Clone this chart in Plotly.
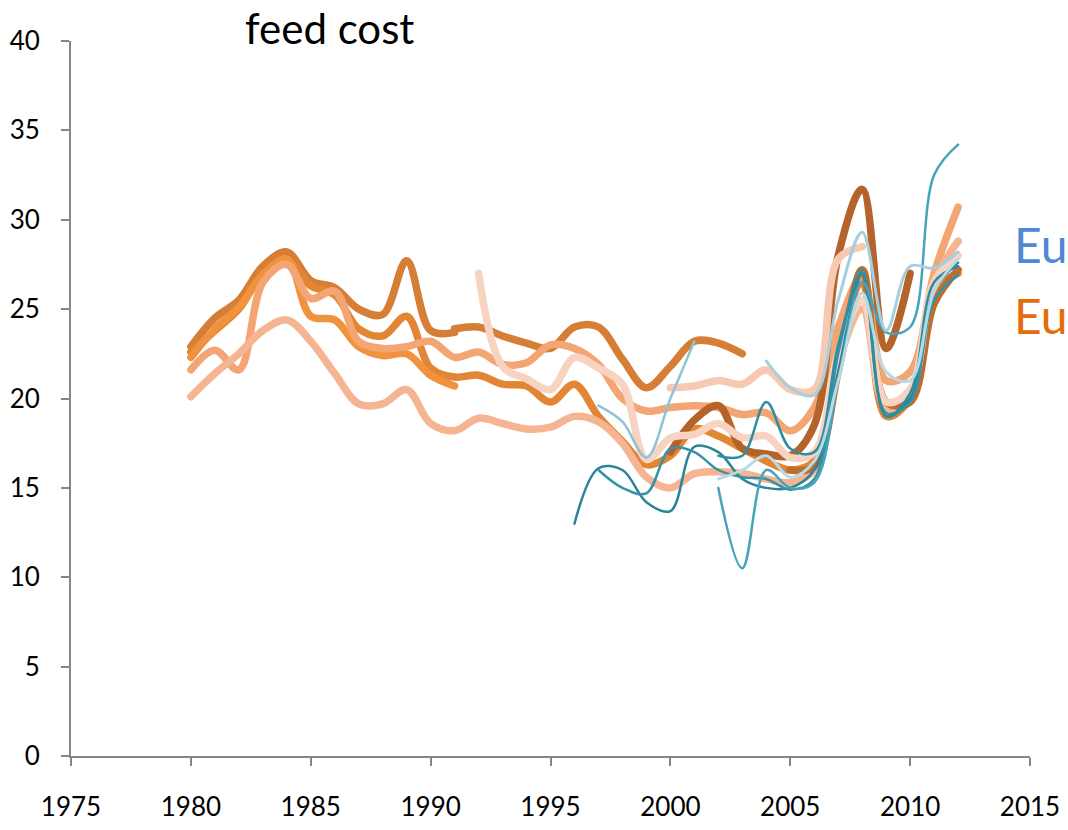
import plotly.graph_objects as go

# ---- feed cost series (index values per year) ----
# orange family
s1_years = list(range(1980, 1992))
s1_vals = [22.9, 24.5, 25.5, 27.4, 28.2, 26.6, 26.2, 25.0, 24.7, 27.7, 23.8, 23.7]

s1b_years = list(range(1991, 2004))
s1b_vals = [23.9, 24.0, 23.5, 23.1, 22.8, 24.0, 24.0, 22.2, 20.6, 21.8, 23.2, 23.1, 22.5]

p_years = list(range(1980, 1992))
p_vals = [22.3, 23.9, 25.1, 26.9, 27.8, 24.6, 24.4, 22.9, 22.4, 22.5, 21.3, 20.7]

q_years = list(range(1980, 2013))
q_vals = [22.6, 23.8, 25.0, 27.0, 27.7, 26.3, 25.8, 23.9, 23.5, 24.6, 21.7, 21.2,
          21.3, 20.8, 20.7, 19.8, 20.8, 19.0, 17.6, 16.3, 16.8, 18.3, 17.9, 17.2,
          16.5, 16.0, 16.5, 22.5, 26.5, 19.0, 20.0, 26.0, 27.0]

d_years = list(range(1980, 2013))
d_vals = [21.6, 22.7, 21.6, 26.5, 27.5, 25.6, 26.0, 23.2, 22.8, 22.9, 23.2, 22.3,
          22.6, 21.9, 22.0, 23.0, 22.8, 21.9, 20.0, 19.3, 19.5, 19.6, 19.5, 19.1,
          19.2, 18.2, 19.5, 24.0, 26.8, 21.0, 21.5, 27.0, 30.7]

e_years = list(range(1980, 2013))
e_vals = [20.1, 21.4, 22.5, 23.8, 24.4, 23.2, 21.4, 19.7, 19.7, 20.5, 18.6, 18.2,
          18.9, 18.6, 18.3, 18.4, 19.0, 18.7, 17.5, 15.6, 15.0, 15.8, 15.9, 15.8,
          15.5, 15.3, 16.0, 22.0, 25.0, 19.5, 20.0, 26.5, 28.8]

pp1_years = list(range(1992, 2013))
pp1_vals = [27.0, 21.8, 21.1, 20.5, 22.3, 21.7, 20.8, 16.6, 17.8, 18.0, 18.6, 17.8,
            17.9, 16.7, 17.0, 22.5, 25.5, 19.8, 20.5, 26.5, 28.0]

pp2_years = list(range(2000, 2009))
pp2_vals = [20.6, 20.7, 21.0, 20.8, 21.6, 20.5, 20.5, 27.8, 28.5]

br1_years = list(range(2000, 2011))
br1_vals = [17.0, 18.8, 19.6, 17.2, 16.9, 16.8, 18.5, 28.0, 31.7, 22.8, 27.0]

br2_years = list(range(2005, 2013))
br2_vals = [16.0, 16.2, 21.5, 27.2, 19.8, 19.8, 25.3, 27.2]

# blue family
t1_years = list(range(1996, 2013))
t1_vals = [13.0, 16.1, 16.0, 14.2, 13.7, 17.3, 17.0, 15.5, 15.0, 15.0, 16.0, 21.5,
           27.0, 19.0, 20.0, 26.0, 27.6]

t2_years = list(range(1997, 2013))
t2_vals = [16.0, 15.0, 14.7, 17.2, 17.0, 16.0, 15.6, 15.5, 14.9, 15.5, 22.5, 27.2,
           19.2, 19.8, 25.5, 26.9]

t3_years = list(range(2002, 2013))
t3_vals = [16.8, 16.8, 19.8, 17.2, 17.0, 23.0, 27.0, 19.0, 20.3, 26.5, 27.4]

t4_years = list(range(2002, 2013))
t4_vals = [15.0, 10.5, 16.0, 15.0, 15.3, 21.0, 26.5, 23.7, 24.0, 32.5, 34.2]

lb1_years = list(range(1997, 2002))
lb1_vals = [19.6, 18.7, 16.7, 20.0, 23.2]

lb2_years = list(range(2004, 2013))
lb2_vals = [22.1, 20.6, 20.2, 25.5, 29.3, 23.8, 27.4, 27.3, 28.2]

lb3_years = list(range(2002, 2013))
lb3_vals = [15.5, 16.0, 16.8, 15.6, 16.5, 21.0, 25.9, 21.5, 21.0, 26.0, 27.8]

# (years, values, colour, width) in drawing order
series = [
    (s1_years, s1_vals, "#D67E36", 7.5),
    (s1b_years, s1b_vals, "#D67E36", 7.5),
    (q_years, q_vals, "#E38634", 7.5),
    (p_years, p_vals, "#F1923F", 7.5),
    (d_years, d_vals, "#F4A574", 7.5),
    (e_years, e_vals, "#F6B592", 7.5),
    (br2_years, br2_vals, "#BD6D2F", 7.5),
    (br1_years, br1_vals, "#B4642A", 7.5),
    (pp2_years, pp2_vals, "#F7C9B2", 7.5),
    (pp1_years, pp1_vals, "#F8D3C1", 7.5),
    (t1_years, t1_vals, "#2B8597", 2.5),
    (t2_years, t2_vals, "#3593A8", 2.5),
    (t3_years, t3_vals, "#2E8DA0", 2.5),
    (t4_years, t4_vals, "#45A4BC", 2.5),
    (lb1_years, lb1_vals, "#8EC4D6", 2.5),
    (lb3_years, lb3_vals, "#B8DAE6", 3),
    (lb2_years, lb2_vals, "#A5CFDD", 3),
]

FONT = "Lato, 'Open Sans', sans-serif"
AXIS_GREY = "#868686"

fig = go.Figure()
for xs, ys, col, w in series:
    fig.add_trace(go.Scatter(
        x=xs, y=ys, mode="lines",
        line=dict(color=col, width=w, shape="spline", smoothing=1.0),
        hoverinfo="skip", showlegend=False,
    ))

fig.update_layout(
    width=1068, height=830,
    margin=dict(l=71, r=38, t=41, b=74),
    paper_bgcolor="white", plot_bgcolor="white",
    font=dict(family=FONT, size=26, color="#000000"),
    showlegend=False,
    xaxis=dict(
        range=[1975, 2015], tick0=1975, dtick=5,
        automargin=False,
        showgrid=False, zeroline=False,
        showline=True, linecolor=AXIS_GREY, linewidth=2,
        ticks="outside", ticklen=8, tickwidth=2, tickcolor=AXIS_GREY,
        ticklabelstandoff=19,
        tickfont=dict(family=FONT, size=26, color="#000000"),
    ),
    yaxis=dict(
        range=[0, 40], tick0=0, dtick=5,
        automargin=False,
        showgrid=False, zeroline=False,
        showline=True, linecolor=AXIS_GREY, linewidth=2,
        ticks="outside", ticklen=8, tickwidth=2, tickcolor=AXIS_GREY,
        ticklabelstandoff=16,
        tickfont=dict(family=FONT, size=26, color="#000000"),
    ),
    annotations=[
        dict(text="feed cost", xref="paper", yref="paper",
             x=(329 - 71) / 959, y=1 + (41 - 28) / 715,
             xanchor="center", yanchor="middle", showarrow=False,
             font=dict(family=FONT, size=42, color="#000000")),
        dict(text="Eu", xref="paper", yref="paper",
             x=(1012 - 71) / 959, y=(756 - 245) / 715,
             xanchor="left", yanchor="middle", showarrow=False,
             font=dict(family=FONT, size=48, color="#4F88D3")),
        dict(text="Eu", xref="paper", yref="paper",
             x=(1012 - 71) / 959, y=(756 - 315) / 715,
             xanchor="left", yanchor="middle", showarrow=False,
             font=dict(family=FONT, size=48, color="#E46C0A")),
    ],
)

# rounded ends and joins on the series lines
round_caps = (
    "var s=document.createElement('style');"
    "s.innerHTML='.js-line{stroke-linecap:round;stroke-linejoin:round;}';"
    "document.head.appendChild(s);"
)

fig.write_html("out.html", post_script=round_caps)
